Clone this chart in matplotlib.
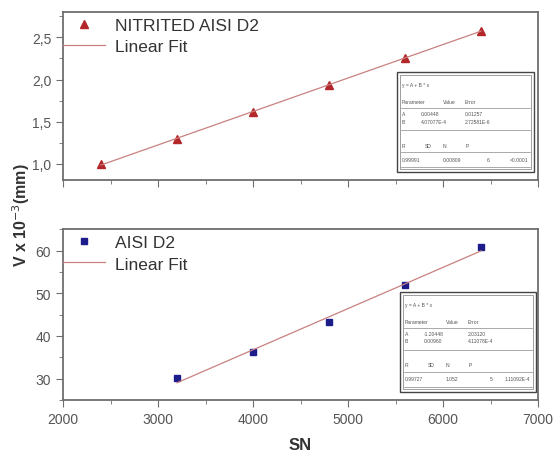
import matplotlib
matplotlib.use("Agg")
import matplotlib.pyplot as plt
import numpy as np
from matplotlib.patches import Rectangle
from matplotlib.ticker import MultipleLocator, FuncFormatter

plt.rcParams["font.family"] = ["Liberation Sans", "DejaVu Sans"]

# data
sn_nitrited = [2400, 3200, 4000, 4800, 5600, 6400]
v_nitrited = [1.00, 1.30, 1.61, 1.93, 2.26, 2.58]

sn_d2 = [3200, 4000, 4800, 5600, 6400]
v_d2 = [30.1, 36.2, 43.3, 52.0, 60.8]

fit_top_rows = [
    ["A", "0.00448", "0.01257"],
    ["B", "4.07077E-4", "2.72581E-6"],
]
fit_top_stats = ["0.99991", "0.00809", "6", "<0.0001"]
fit_bot_rows = [
    ["A", "-1.20448", "2.03120"],
    ["B", "0.00960", "4.11078E-4"],
]
fit_bot_stats = ["0.99727", "1.052", "5", "1.11092E-4"]

red = "#b3262a"
navy = "#1c1c8a"
fit_col = "#c98080"
spine_col = "#6e6e6e"

FIG_W, FIG_H = 555, 452


def fit_box(ax, left, top, w, h, rows, stats):
    # box given in figure pixels (from top-left), drawn in axes coords
    pos = ax.get_position()
    ax_w = pos.width * FIG_W
    ax_h = pos.height * FIG_H
    ax_x0 = pos.x0 * FIG_W
    ax_top = FIG_H - pos.y1 * FIG_H

    def fx(px):
        return (px - ax_x0) / ax_w

    def fy(py):
        return 1 - (py - ax_top) / ax_h

    ax.add_patch(Rectangle((fx(left), fy(top + h)), w / ax_w, h / ax_h,
                           transform=ax.transAxes, fc="white", ec="#444444",
                           lw=1.0, zorder=5))
    ax.add_patch(Rectangle((fx(left + 3), fy(top + h - 3)), (w - 6) / ax_w,
                           (h - 6) / ax_h, transform=ax.transAxes, fill=False,
                           ec="#777777", lw=0.5, zorder=6))
    kw = dict(transform=ax.transAxes, fontsize=3.6, color="#555555", zorder=7,
              va="center")
    x = lambda d: fx(left + d)
    y = lambda d: fy(top + d)
    ax.text(x(5), y(13), "y = A + B * x", **kw)
    for d, t in zip([5, 46, 68], ["Parameter", "Value", "Error"]):
        ax.text(x(d), y(29), t, **kw)
    for i, r in enumerate(rows):
        for d, t in zip([5, 24, 68], r):
            ax.text(x(d), y(42 + 7 * i), t, **kw)
    for d, t in zip([5, 28, 46, 69], ["R", "SD", "N", "P"]):
        ax.text(x(d), y(73), t, **kw)
    for d, t in zip([5, 46, 90], stats[:3]):
        ax.text(x(d), y(87), t, **kw)
    ax.text(x(w - 6), y(87), stats[3], ha="right", **kw)
    for ly in [36, 58, 80, 95]:
        ax.plot([x(4), x(w - 4)], [y(ly), y(ly)], transform=ax.transAxes,
                color="#888888", lw=0.5, zorder=7)


def style(ax):
    for s in ax.spines.values():
        s.set_color(spine_col)
        s.set_linewidth(1.3)
    ax.tick_params(which="both", direction="out", colors=spine_col,
                   labelcolor="#555555", labelsize=10)
    ax.tick_params(which="major", length=5)
    ax.tick_params(which="minor", length=3)
    ax.set_xlim(2000, 7000)
    ax.xaxis.set_major_locator(MultipleLocator(1000))
    ax.xaxis.set_minor_locator(MultipleLocator(500))


leg_kw = dict(loc="upper left", frameon=False, fontsize=12.5, handlelength=2.4,
              borderaxespad=0.0, borderpad=0.0, labelspacing=0.35,
              handletextpad=0.6, labelcolor="#333333")

fig = plt.figure(figsize=(5.55, 4.52), dpi=100)
ax1 = fig.add_axes([0.1135, 0.5996, 0.856, 0.3717])
ax2 = fig.add_axes([0.1135, 0.1128, 0.856, 0.378])

# top panel
p = np.polyfit(sn_nitrited, v_nitrited, 1)
xs = np.array([sn_nitrited[0], sn_nitrited[-1]])
ax1.plot(sn_nitrited, v_nitrited, "^", color=red, ms=6, label="NITRITED AISI D2")
ax1.plot(xs, np.polyval(p, xs), "-", color=fit_col, lw=0.9, label="Linear Fit")
style(ax1)
ax1.set_ylim(0.81, 2.8)
ax1.yaxis.set_major_locator(MultipleLocator(0.5))
ax1.yaxis.set_minor_locator(MultipleLocator(0.25))
ax1.yaxis.set_major_formatter(FuncFormatter(lambda v, _: f"{v:.1f}".replace(".", ",")))
ax1.tick_params(axis="x", labelbottom=False)
ax1.legend(bbox_to_anchor=(0, 0.965), **leg_kw)
fit_box(ax1, 397, 73, 137, 100, fit_top_rows, fit_top_stats)

# bottom panel
q = np.polyfit(sn_d2, v_d2, 1)
xs2 = np.array([sn_d2[0], sn_d2[-1]])
ax2.plot(sn_d2, v_d2, "s", color=navy, ms=5, label="AISI D2")
ax2.plot(xs2, np.polyval(q, xs2), "-", color=fit_col, lw=0.9, label="Linear Fit")
style(ax2)
ax2.set_ylim(25, 65)
ax2.yaxis.set_major_locator(MultipleLocator(10))
ax2.yaxis.set_minor_locator(MultipleLocator(5))
ax2.legend(bbox_to_anchor=(0, 0.965), **leg_kw)
fit_box(ax2, 400, 293, 136, 100, fit_bot_rows, fit_bot_stats)
ax2.set_xlabel("SN", fontsize=12, fontweight="bold", color="#333333", labelpad=8)

fig.text(0.038, 0.524, "V x 10$^{-3}$(mm)", rotation=90, ha="center", va="center",
         fontsize=11.5, fontweight="bold", color="#333333")

fig.savefig("out.png", dpi=100)
